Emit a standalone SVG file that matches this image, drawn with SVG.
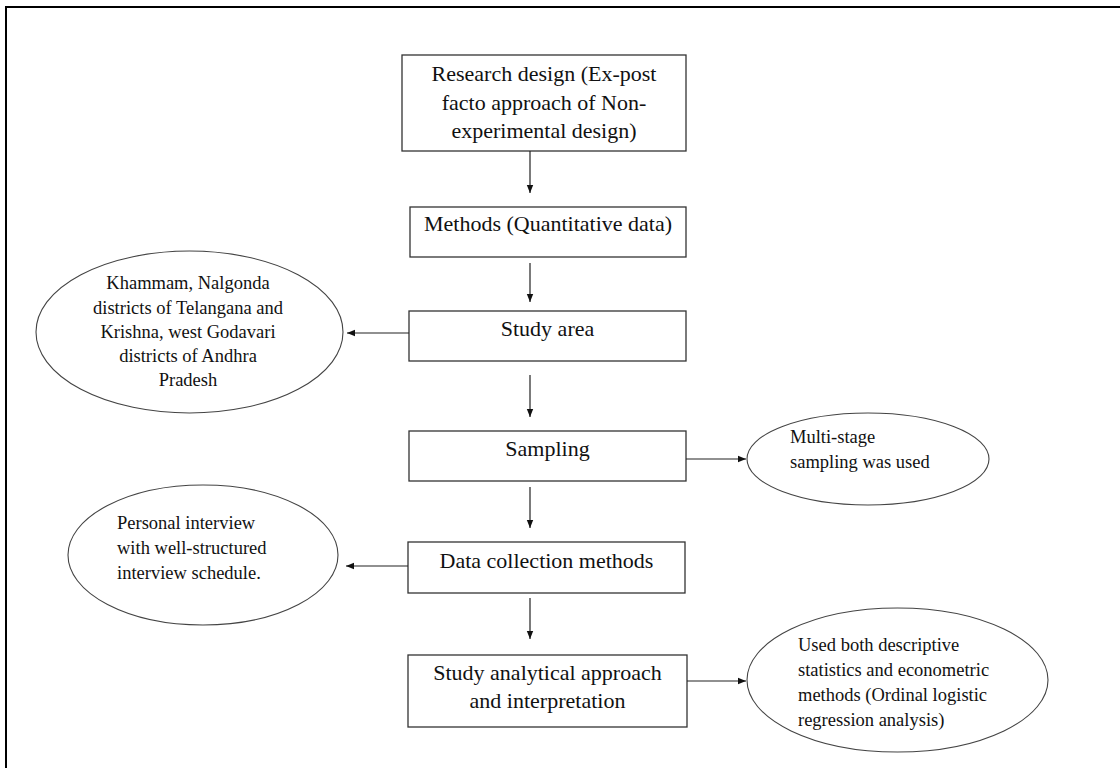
<svg xmlns="http://www.w3.org/2000/svg" width="1120" height="768" viewBox="0 0 1120 768">
<style>
.box{fill:#fff;stroke:#333;stroke-width:1.3}
.ell{fill:#fff;stroke:#444;stroke-width:1.1}
.bt{font-family:"Liberation Serif","Times New Roman",serif;font-size:22px;fill:#111;text-anchor:middle}
.et{font-family:"Liberation Serif","Times New Roman",serif;font-size:18.5px;fill:#111}
.c{text-anchor:middle}
.conn line{stroke:#222;stroke-width:1.2;fill:none}
</style>
<defs>
<marker id="ah" viewBox="0 0 10 10" refX="10" refY="5" markerWidth="8" markerHeight="8" markerUnits="userSpaceOnUse" orient="auto">
<path d="M0,1 L10,5 L0,9 Z" fill="#111"/>
</marker>
</defs>
<rect width="1120" height="768" fill="#fff"/>
<g id="frame">
<line x1="6" y1="7" x2="6" y2="768" stroke="#000" stroke-width="2"/>
<line x1="5" y1="7" x2="1120" y2="7" stroke="#000" stroke-width="2"/>
</g>
<g id="n1">
<rect class="box" x="402" y="55" width="284" height="96"/>
<text class="bt" x="544" y="81">Research design (Ex-post</text>
<text class="bt" x="544" y="110">facto approach of Non-</text>
<text class="bt" x="544" y="138">experimental design)</text>
</g>
<g id="n2">
<rect class="box" x="410" y="207" width="276" height="50"/>
<text class="bt" x="548" y="231">Methods (Quantitative data)</text>
</g>
<g id="n3">
<rect class="box" x="409" y="311" width="277" height="50"/>
<text class="bt" x="547.5" y="336">Study area</text>
</g>
<g id="n4">
<rect class="box" x="409" y="431" width="277" height="50"/>
<text class="bt" x="547.5" y="456">Sampling</text>
</g>
<g id="n5">
<rect class="box" x="408" y="542" width="277" height="51"/>
<text class="bt" x="546.5" y="568">Data collection methods</text>
</g>
<g id="n6">
<rect class="box" x="408" y="655" width="279" height="72"/>
<text class="bt" x="547.5" y="680">Study analytical approach</text>
<text class="bt" x="547.5" y="708">and interpretation</text>
</g>
<g id="e1">
<ellipse class="ell" cx="189.5" cy="332" rx="153.5" ry="81"/>
<text class="et c" x="188" y="289">Khammam, Nalgonda</text>
<text class="et c" x="188" y="314">districts of Telangana and</text>
<text class="et c" x="188" y="338">Krishna, west Godavari</text>
<text class="et c" x="188" y="362">districts of Andhra</text>
<text class="et c" x="188" y="386">Pradesh</text>
</g>
<g id="e2">
<ellipse class="ell" cx="868" cy="459" rx="121" ry="46"/>
<text class="et" x="790" y="443">Multi-stage</text>
<text class="et" x="790" y="468">sampling was used</text>
</g>
<g id="e3">
<ellipse class="ell" cx="203" cy="555" rx="135" ry="70"/>
<text class="et" x="117" y="529">Personal interview</text>
<text class="et" x="117" y="554">with well-structured</text>
<text class="et" x="117" y="579">interview schedule.</text>
</g>
<g id="e4">
<ellipse class="ell" cx="897.5" cy="680" rx="150.5" ry="72"/>
<text class="et" x="798" y="651">Used both descriptive</text>
<text class="et" x="798" y="676">statistics and econometric</text>
<text class="et" x="798" y="701">methods (Ordinal logistic</text>
<text class="et" x="798" y="726">regression analysis)</text>
</g>
<g class="conn" id="connectors">
<line x1="530" y1="151" x2="530" y2="193" marker-end="url(#ah)"/>
<line x1="530" y1="263" x2="530" y2="302" marker-end="url(#ah)"/>
<line x1="530" y1="375" x2="530" y2="417" marker-end="url(#ah)"/>
<line x1="530" y1="487" x2="530" y2="528" marker-end="url(#ah)"/>
<line x1="530" y1="598" x2="530" y2="639" marker-end="url(#ah)"/>
<line x1="409" y1="333" x2="347" y2="333" marker-end="url(#ah)"/>
<line x1="686" y1="459" x2="746" y2="459" marker-end="url(#ah)"/>
<line x1="408" y1="566" x2="346" y2="566" marker-end="url(#ah)"/>
<line x1="687" y1="681" x2="746" y2="681" marker-end="url(#ah)"/>
</g>
</svg>
